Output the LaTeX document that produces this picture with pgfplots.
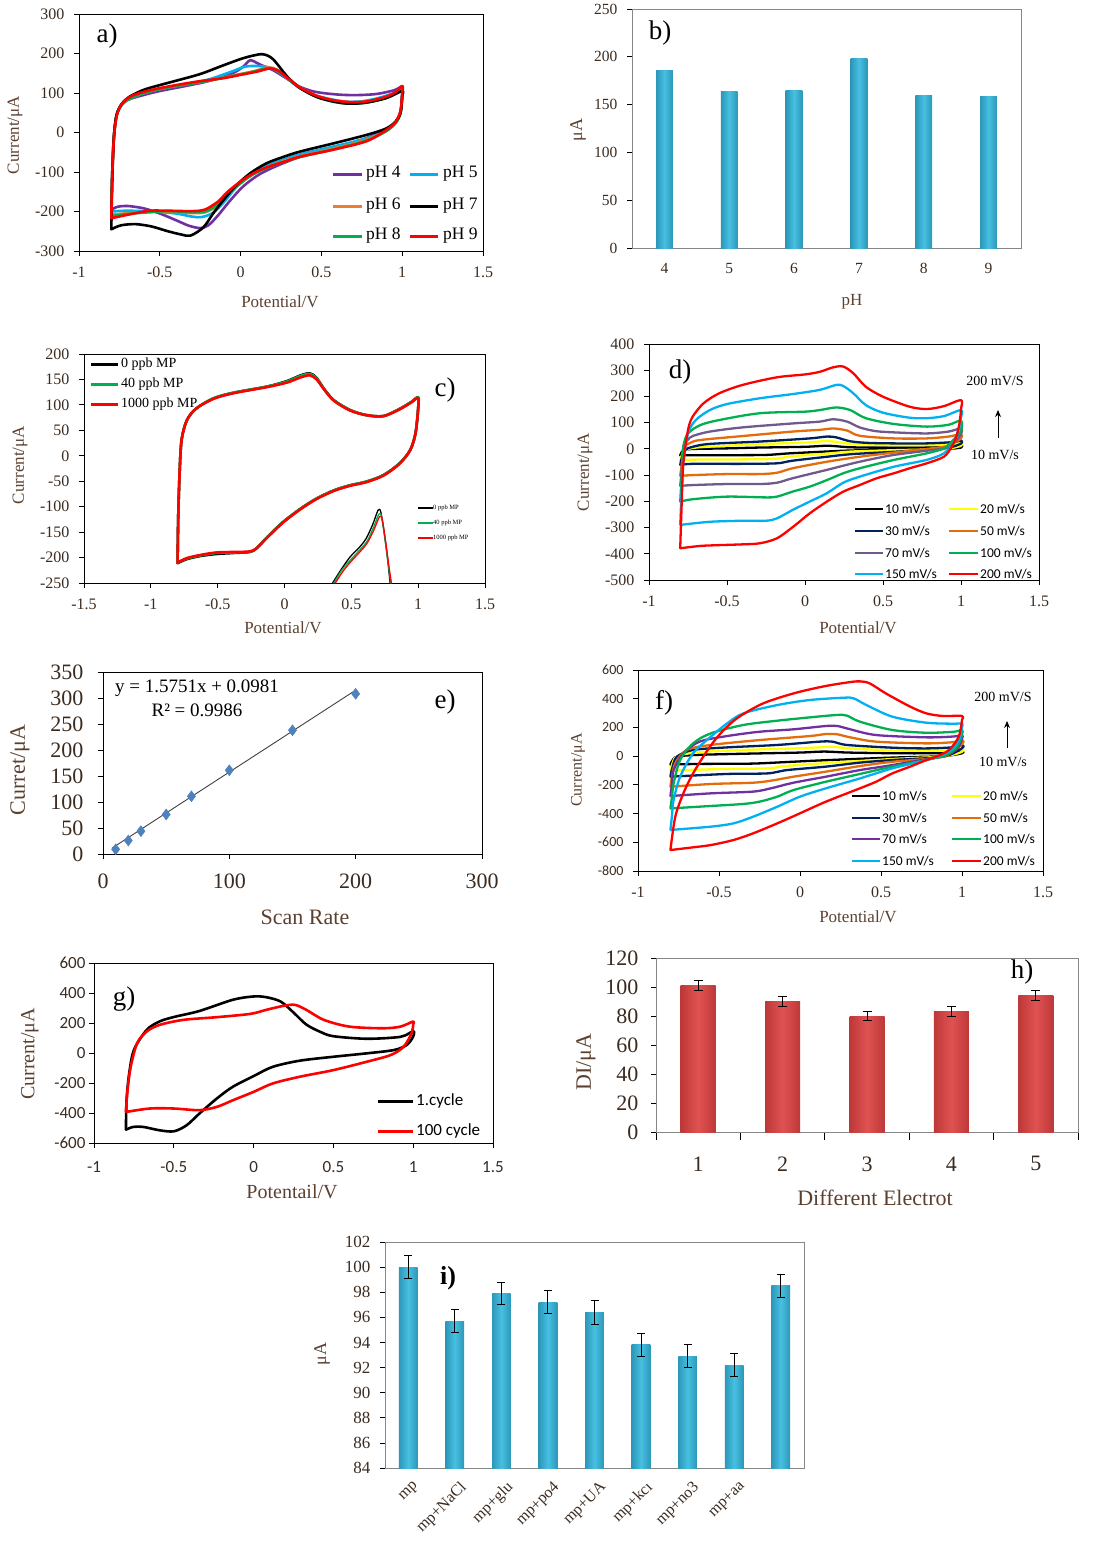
\documentclass[border=0pt]{standalone}
\usepackage{fontspec}
\setmainfont{Liberation Serif}
\newfontfamily\calibri{Carlito}
\usepackage{pgfplots}
\pgfplotsset{compat=1.18}
\usetikzlibrary{arrows.meta}
\newcommand\fs[1]{\fontsize{#1}{#1}\selectfont}
\definecolor{tickc}{HTML}{3B2B1F}
\definecolor{labc}{HTML}{5B4030}
\definecolor{cpurple}{HTML}{7030A0}
\definecolor{ccyan}{HTML}{00B0F0}
\definecolor{corange}{HTML}{ED7D31}
\definecolor{cgreen}{HTML}{00B050}
\definecolor{cred}{HTML}{FF0000}
\definecolor{cnavy}{HTML}{002060}
\definecolor{cyellow}{HTML}{FFFF00}
\definecolor{dorange}{HTML}{E46C0A}
\definecolor{dpurple}{HTML}{705A8C}
\definecolor{diam}{HTML}{4F81BD}
\definecolor{barA}{HTML}{2C97B8}
\definecolor{barB}{HTML}{47C0E2}
\definecolor{redA}{HTML}{BE3838}
\definecolor{redB}{HTML}{E05252}
\definecolor{frameg}{HTML}{868686}
\pgfplotsset{
  base/.style={
    scale only axis, anchor=south west,
    axis line style={line width=0.8pt},
    tick style={line width=0.8pt, black},
    tick align=outside, tick pos=left,
    major tick length=5pt,
    /pgf/number format/assume math mode=true,
    /pgf/number format/fixed,
    /pgf/number format/1000 sep={},
    tick label style={text=tickc},
    xticklabel style={yshift=-7pt},
    yticklabel style={xshift=-6pt},
  },
  cv/.style={base, xmin=-1, xmax=1.5, xtick={-1,-0.5,0,0.5,1,1.5},
    every axis plot/.append style={smooth, tension=0.5, line join=round, line cap=round, line width=2.6pt, mark=none}},
  bbar/.style={draw=none, bar shift=0pt, left color=barA, right color=barA, middle color=barB},
  rbar/.style={draw=none, bar shift=0pt, left color=redA, right color=redA, middle color=redB},
  ebar/.style={error bars/y dir=both, error bars/y explicit,
    error bars/error bar style={line width=1pt, black},
    error bars/error mark options={rotate=90, mark size=#1, line width=1pt, black}},
}
\begin{document}
\begin{tikzpicture}
\useasboundingbox (0pt,0pt) rectangle (1111pt,-1547pt);
% ================= a) =================
\begin{axis}[cv, at={(79pt,-251pt)}, width=404pt, height=237pt,
  ymin=-300, ymax=300, ytick={-300,-200,...,300},
  tick label style={font=\fs{16}}]
\addplot[cpurple] coordinates {(-0.8,-195) (-0.795,-110) (-0.785,-15) (-0.77,38) (-0.75,62) (-0.7,82) (-0.6,95) (-0.5,105) (-0.35,117) (-0.2,130) (-0.05,150) (0.02,168) (0.06,183) (0.12,172) (0.2,158) (0.28,138) (0.36,117) (0.45,104) (0.55,98) (0.65,95) (0.75,95) (0.85,98) (0.95,107) (1.0,116) (1.0,98) (0.99,55) (0.96,28) (0.9,8) (0.78,-14) (0.58,-38) (0.4,-57) (0.25,-80) (0.12,-105) (0.02,-135) (-0.06,-170) (-0.14,-210) (-0.2,-235) (-0.25,-242) (-0.32,-236) (-0.4,-222) (-0.5,-205) (-0.6,-192) (-0.7,-186) (-0.76,-188) (-0.8,-195)};
\addplot[ccyan] coordinates {(-0.8,-200) (-0.795,-110) (-0.785,-15) (-0.77,38) (-0.75,62) (-0.71,80) (-0.62,97) (-0.5,110) (-0.35,122) (-0.2,134) (-0.05,155) (0.03,167) (0.12,168) (0.2,162) (0.28,140) (0.36,114) (0.45,96) (0.55,85) (0.65,78) (0.75,79) (0.85,87) (0.95,100) (1.0,112) (1.0,95) (0.99,52) (0.96,25) (0.9,5) (0.78,-15) (0.58,-35) (0.37,-55) (0.27,-68) (0.16,-85) (0.06,-108) (-0.03,-140) (-0.1,-175) (-0.17,-203) (-0.24,-214) (-0.3,-213) (-0.4,-205) (-0.55,-200) (-0.7,-198) (-0.8,-200)};
\addplot[corange] coordinates {(-0.8,-208) (-0.795,-110) (-0.785,-15) (-0.77,38) (-0.75,62) (-0.71,80) (-0.62,97) (-0.5,110) (-0.35,121) (-0.2,131) (-0.05,144) (0.08,155) (0.17,165) (0.23,158) (0.3,135) (0.37,113) (0.47,93) (0.57,82) (0.67,77) (0.77,78) (0.88,86) (0.95,96) (1.0,108) (1.0,92) (0.99,50) (0.96,25) (0.9,4) (0.78,-18) (0.58,-40) (0.37,-60) (0.27,-72) (0.17,-87) (0.08,-105) (0,-128) (-0.08,-158) (-0.15,-187) (-0.22,-202) (-0.3,-204) (-0.45,-200) (-0.6,-202) (-0.72,-205) (-0.8,-208)};
\addplot[cgreen] coordinates {(-0.8,-212) (-0.795,-110) (-0.785,-15) (-0.77,38) (-0.75,62) (-0.71,80) (-0.62,97) (-0.5,110) (-0.35,121) (-0.2,131) (-0.05,143) (0.08,154) (0.17,163) (0.23,157) (0.3,134) (0.37,112) (0.47,91) (0.57,78) (0.67,73) (0.77,75) (0.88,85) (0.95,96) (1.0,110) (1.0,94) (0.99,50) (0.96,24) (0.9,3) (0.78,-20) (0.58,-42) (0.37,-62) (0.27,-74) (0.17,-88) (0.08,-105) (0,-128) (-0.08,-157) (-0.15,-185) (-0.22,-200) (-0.3,-202) (-0.45,-199) (-0.6,-203) (-0.72,-207) (-0.8,-212)};
\addplot[black] coordinates {(-0.8,-245) (-0.795,-130) (-0.785,-20) (-0.77,40) (-0.74,70) (-0.69,90) (-0.6,108) (-0.5,120) (-0.4,131) (-0.25,148) (-0.12,168) (0,186) (0.08,195) (0.14,198) (0.2,186) (0.29,141) (0.37,112) (0.47,90) (0.57,79) (0.67,73) (0.78,76) (0.9,87) (1.0,105) (1.0,92) (0.99,50) (0.96,28) (0.9,10) (0.78,-6) (0.58,-27) (0.37,-48) (0.27,-61) (0.16,-78) (0.06,-103) (-0.03,-135) (-0.1,-168) (-0.17,-205) (-0.23,-240) (-0.31,-261) (-0.37,-258) (-0.45,-250) (-0.55,-238) (-0.65,-232) (-0.74,-235) (-0.8,-245)};
\addplot[cred] coordinates {(-0.8,-217) (-0.795,-120) (-0.785,-20) (-0.77,35) (-0.75,62) (-0.72,80) (-0.66,95) (-0.55,108) (-0.4,120) (-0.25,130) (-0.1,138) (0,146) (0.1,154) (0.18,162) (0.23,157) (0.3,135) (0.37,113) (0.47,93) (0.57,82) (0.67,77) (0.77,78) (0.88,88) (0.95,100) (1.0,118) (1.0,100) (0.99,55) (0.96,27) (0.9,6) (0.78,-22) (0.58,-43) (0.37,-61) (0.27,-74) (0.17,-87) (0.08,-103) (0,-124) (-0.08,-150) (-0.14,-175) (-0.22,-195) (-0.3,-199) (-0.45,-198) (-0.56,-198) (-0.66,-205) (-0.8,-217)};
\end{axis}
\node[font=\fs{27}] at (107pt,-36pt) {a)};
\node[rotate=90, font=\fs{17}, text=labc] at (15pt,-135pt) {Current/μA};
\node[font=\fs{17}, text=labc] at (280pt,-302pt) {Potential/V};
\foreach \y/\ca/\la/\cb/\lb in {174/cpurple/{pH 4}/ccyan/{pH 5}, 206/corange/{pH 6}/black/{pH 7}, 236/cgreen/{pH 8}/cred/{pH 9}}{
  \draw[\ca, line width=3pt] (333pt,-\y pt) -- (362pt,-\y pt);
  \node[anchor=west, font=\fs{17.5}, inner sep=0pt] at (366pt,-\y pt) {\la};
  \draw[\cb, line width=3pt] (410pt,-\y pt) -- (438pt,-\y pt);
  \node[anchor=west, font=\fs{17.5}, inner sep=0pt] at (443pt,-\y pt) {\lb};
}
% ================= b) =================
\begin{axis}[base, at={(632pt,-248pt)}, width=389pt, height=239pt,
  ymin=0, ymax=250, ytick={0,50,...,250}, xmin=3.5, xmax=9.5, xtick={4,5,6,7,8,9},
  axis line style={frameg}, major x tick style={draw=none},
  tick label style={font=\fs{15.5}},
  ybar, bar width=16.7pt]
\addplot[bbar] coordinates {(4,186)};
\addplot[bbar] coordinates {(5,164)};
\addplot[bbar] coordinates {(6,165)};
\addplot[bbar] coordinates {(7,198)};
\addplot[bbar] coordinates {(8,159)};
\addplot[bbar] coordinates {(9,158)};
\end{axis}
\node[font=\fs{27}] at (660pt,-33pt) {b)};
\node[rotate=90, font=\fs{18}, text=labc] at (578pt,-130pt) {μA};
\node[font=\fs{17}, text=labc] at (852pt,-302pt) {pH};
% ================= c) =================
\begin{axis}[cv, at={(84pt,-583pt)}, width=401pt, height=229pt,
  xmin=-1.5, xtick={-1.5,-1,-0.5,0,0.5,1,1.5},
  ymin=-250, ymax=200, ytick={-250,-200,...,200},
  tick label style={font=\fs{16}}]
\addplot[black] coordinates {(-0.8,-211) (-0.795,-120) (-0.785,-35) (-0.77,31) (-0.73,70) (-0.66,93) (-0.53,113) (-0.38,124) (-0.13,136) (0.02,147) (0.12,158) (0.19,162) (0.24,153) (0.3,130) (0.37,109) (0.49,90) (0.61,80) (0.74,78) (0.86,92) (0.95,106) (1.0,115) (1.0,93) (0.98,44) (0.94,11) (0.86,-15) (0.74,-38) (0.61,-51) (0.49,-58) (0.37,-68) (0.24,-84) (0.12,-104) (-0.01,-130) (-0.13,-160) (-0.21,-182) (-0.26,-189) (-0.38,-191) (-0.51,-193) (-0.63,-197) (-0.73,-203) (-0.8,-211)};
\addplot[cgreen] coordinates {(-0.8,-210) (-0.795,-120) (-0.785,-35) (-0.77,31) (-0.73,70) (-0.66,93) (-0.53,113) (-0.38,124) (-0.13,136) (0.02,146) (0.12,157) (0.19,161) (0.24,152) (0.3,130) (0.37,109) (0.49,90) (0.61,80) (0.74,78) (0.86,92) (0.95,106) (1.0,115) (1.0,93) (0.98,44) (0.94,11) (0.86,-15) (0.74,-38) (0.61,-51) (0.49,-58) (0.37,-68) (0.24,-84) (0.12,-104) (-0.01,-130) (-0.13,-160) (-0.21,-182) (-0.26,-189) (-0.38,-190) (-0.51,-191) (-0.63,-196) (-0.73,-202) (-0.8,-210)};
\addplot[cred] coordinates {(-0.8,-210) (-0.795,-120) (-0.785,-35) (-0.77,31) (-0.73,70) (-0.66,93) (-0.53,112) (-0.38,123) (-0.13,135) (0.02,144) (0.12,154) (0.19,158) (0.24,150) (0.3,129) (0.37,108) (0.49,89) (0.61,80) (0.74,78) (0.86,91) (0.95,105) (1.0,114) (1.0,93) (0.98,44) (0.94,11) (0.86,-16) (0.74,-39) (0.61,-52) (0.49,-59) (0.37,-69) (0.24,-85) (0.12,-105) (-0.01,-131) (-0.13,-161) (-0.21,-182) (-0.26,-188) (-0.38,-189) (-0.51,-190) (-0.63,-195) (-0.73,-201) (-0.8,-210)};
\addplot[black, line width=1.3pt] coordinates {(0.36,-250) (0.42,-225) (0.49,-199) (0.56,-180) (0.61,-163) (0.66,-135) (0.70,-107) (0.72,-110) (0.745,-150) (0.77,-200) (0.79,-250)};
\addplot[cgreen, line width=1.3pt] coordinates {(0.37,-250) (0.43,-224) (0.5,-203) (0.57,-183) (0.62,-167) (0.67,-138) (0.705,-115) (0.725,-118) (0.75,-160) (0.775,-210) (0.795,-250)};
\addplot[cred, line width=1.3pt] coordinates {(0.38,-250) (0.44,-226) (0.5,-207) (0.57,-187) (0.62,-171) (0.67,-145) (0.71,-120) (0.73,-124) (0.755,-165) (0.78,-215) (0.80,-250)};
\end{axis}
\node[font=\fs{27}] at (445pt,-390pt) {c)};
\node[rotate=90, font=\fs{17}, text=labc] at (20pt,-465pt) {Current/μA};
\node[font=\fs{17}, text=labc] at (283pt,-628pt) {Potential/V};
\foreach \y/\c/\l in {364/black/{0 ppb MP}, 384/cgreen/{40 ppb MP}, 404/cred/{1000 ppb MP}}{
  \draw[\c, line width=3pt] (91pt,-\y pt) -- (118pt,-\y pt);
  \node[anchor=west, font=\fs{14}, inner sep=0pt] at (121pt,-\y pt) {\l};
}
\foreach \y/\c/\l in {508/black/{0 ppb MP}, 523/cgreen/{40 ppb MP}, 538/cred/{1000 ppb MP}}{
  \draw[\c, line width=1.2pt] (418pt,-\y pt) -- (433pt,-\y pt);
  \node[anchor=west, font=\fs{6.5}, inner sep=0pt] at (433pt,-\y pt) {\l};
}
% ================= d) =================
\begin{axis}[cv, at={(649pt,-580pt)}, width=390pt, height=236pt,
  ymin=-500, ymax=400, ytick={-500,-400,...,400},
  tick label style={font=\fs{16}},
  every axis plot/.append style={line width=2.3pt}]
\addplot[black] coordinates {(-0.8,-25) (-0.79,-12) (-0.77,-3) (-0.7,0) (-0.5,2) (-0.3,5) (0,8) (0.15,12) (0.3,6) (0.6,5) (0.8,6) (0.95,9) (1.0,14) (1.0,5) (0.9,0) (0.6,-3) (0.3,-6) (0.14,-10) (-0.1,-17) (-0.25,-23) (-0.5,-24) (-0.7,-24) (-0.8,-25)};
\addplot[cyellow] coordinates {(-0.8,-45) (-0.79,-25) (-0.77,-5) (-0.7,5) (-0.5,12) (-0.3,18) (0,24) (0.15,30) (0.3,19) (0.57,14) (0.8,14) (0.95,18) (1.0,24) (1.0,12) (0.89,0) (0.57,-5) (0.3,-10) (0.14,-18) (-0.08,-28) (-0.2,-38) (-0.4,-40) (-0.72,-41) (-0.8,-45)};
\addplot[cnavy] coordinates {(-0.8,-61) (-0.79,-35) (-0.77,-5) (-0.72,8) (-0.61,19) (-0.29,28) (0.03,40) (0.14,47) (0.2,44) (0.29,29) (0.4,23) (0.57,21) (0.78,21) (0.95,26) (1.0,32) (1.0,20) (0.89,2) (0.57,-11) (0.3,-20) (0.14,-30) (-0.08,-45) (-0.18,-55) (-0.4,-57) (-0.72,-57) (-0.8,-61)};
\addplot[dorange] coordinates {(-0.8,-103) (-0.79,-60) (-0.77,5) (-0.74,22) (-0.67,34) (-0.4,49) (-0.08,66) (0.1,73) (0.18,78) (0.27,70) (0.35,50) (0.57,40) (0.78,40) (0.92,47) (1.0,56) (1.0,40) (0.95,22) (0.89,8) (0.57,-14) (0.35,-30) (0.14,-49) (-0.08,-74) (-0.18,-91) (-0.29,-96) (-0.5,-96) (-0.72,-100) (-0.8,-103)};
\addplot[dpurple] coordinates {(-0.8,-141) (-0.79,-80) (-0.78,10) (-0.75,35) (-0.72,49) (-0.61,66) (-0.4,82) (-0.08,97) (0.094,104) (0.18,113) (0.27,104) (0.35,82) (0.45,68) (0.57,63) (0.78,59) (0.92,66) (1.0,78) (1.0,55) (0.95,21) (0.89,2) (0.57,-23) (0.35,-49) (0.14,-80) (-0.08,-112) (-0.18,-129) (-0.29,-134) (-0.5,-134) (-0.72,-138) (-0.8,-141)};
\addplot[cgreen] coordinates {(-0.8,-201) (-0.79,-100) (-0.78,8) (-0.75,59) (-0.67,91) (-0.55,110) (-0.29,136) (0,142) (0.094,148) (0.2,158) (0.29,148) (0.39,117) (0.57,95) (0.78,85) (0.92,92) (1.0,108) (1.0,70) (0.95,34) (0.89,2) (0.78,-17) (0.57,-42) (0.35,-74) (0.245,-93) (0.14,-119) (0.03,-144) (-0.08,-163) (-0.18,-182) (-0.25,-185) (-0.5,-182) (-0.72,-192) (-0.8,-201)};
\addplot[ccyan] coordinates {(-0.8,-290) (-0.79,-150) (-0.78,-55) (-0.75,59) (-0.7,110) (-0.61,148) (-0.5,171) (-0.29,193) (-0.08,209) (0.094,225) (0.2,244) (0.245,240) (0.31,212) (0.39,167) (0.5,138) (0.67,119) (0.78,117) (0.89,125) (1.0,148) (1.0,120) (0.99,85) (0.95,21) (0.89,-17) (0.78,-42) (0.57,-68) (0.35,-106) (0.245,-129) (0.14,-169) (0.03,-201) (-0.08,-233) (-0.18,-265) (-0.25,-274) (-0.4,-274) (-0.61,-278) (-0.8,-290)};
\addplot[cred] coordinates {(-0.8,-379) (-0.79,-200) (-0.78,-55) (-0.75,72) (-0.72,123) (-0.65,174) (-0.55,212) (-0.4,244) (-0.18,273) (0,284) (0.095,294) (0.18,311) (0.245,314) (0.31,288) (0.39,237) (0.5,199) (0.67,161) (0.78,152) (0.89,163) (1.0,186) (1.0,151) (0.99,97) (0.97,47) (0.94,8) (0.89,-30) (0.78,-55) (0.67,-74) (0.57,-93) (0.46,-112) (0.35,-138) (0.245,-163) (0.14,-201) (0.03,-246) (-0.076,-297) (-0.18,-341) (-0.29,-360) (-0.4,-364) (-0.55,-367) (-0.67,-370) (-0.8,-379)};
\end{axis}
\node[font=\fs{27}] at (680pt,-372pt) {d)};
\node[rotate=90, font=\fs{17}, text=labc] at (585pt,-472pt) {Current/μA};
\node[font=\fs{17}, text=labc] at (858pt,-628pt) {Potential/V};
\node[font=\fs{14}] at (995pt,-381pt) {200 mV/S};
\node[font=\fs{14}] at (995pt,-455pt) {10 mV/s};
\draw[-{Stealth[length=7pt,width=6pt]}, line width=0.9pt] (998pt,-438pt) -- (998pt,-410pt);
\foreach \y/\ca/\la/\cb/\lb in {509/black/{10 mV/s}/cyellow/{20 mV/s}, 531/cnavy/{30 mV/s}/dorange/{50 mV/s}, 553/dpurple/{70 mV/s}/cgreen/{100 mV/s}, 574/ccyan/{150 mV/s}/cred/{200 mV/s}}{
  \draw[\ca, line width=2.6pt] (855pt,-\y pt) -- (883pt,-\y pt);
  \node[anchor=west, font=\calibri\fs{13.5}, inner sep=0pt] at (885pt,-\y pt) {\la};
  \draw[\cb, line width=2.6pt] (949pt,-\y pt) -- (978pt,-\y pt);
  \node[anchor=west, font=\calibri\fs{13.5}, inner sep=0pt] at (980pt,-\y pt) {\lb};
}
% ================= e) =================
\begin{axis}[base, at={(103pt,-854pt)}, width=379pt, height=182pt,
  xmin=0, xmax=300, ymin=0, ymax=350, xtick={0,100,200,300}, ytick={0,50,...,350},
  tick label style={font=\fs{22}},
  xticklabel style={yshift=-4pt}, yticklabel style={xshift=-5pt}]
\addplot[black!75, line width=0.9pt, mark=none] coordinates {(7,11.1) (200,315.1)};
\addplot[only marks, mark=diamond*, mark size=5.5pt, mark options={fill=diam, draw=diam}] coordinates {(10,9) (20,26) (30,44) (50,76) (70,111) (100,161) (150,238) (200,308)};
\end{axis}
\node[font=\fs{27}] at (445pt,-702pt) {e)};
\node[font=\fs{19}] at (197pt,-688pt) {y = 1.5751x + 0.0981};
\node[font=\fs{19}] at (197pt,-710pt) {R² = 0.9986};
\node[rotate=90, font=\fs{22}, text=labc] at (20pt,-770pt) {Curret/μA};
\node[font=\fs{22}, text=labc] at (305pt,-917pt) {Scan Rate};
% ================= f) =================
\begin{axis}[cv, at={(638pt,-871pt)}, width=405pt, height=201pt,
  ymin=-800, ymax=600, ytick={-800,-600,...,600},
  xticklabel style={font=\fs{16}}, yticklabel style={font=\calibri\fs{14}},
  every axis plot/.append style={line width=2.3pt}]
\addplot[black] coordinates {(-0.8,-58) (-0.79,-35) (-0.77,-8) (-0.72,3) (-0.6,10) (-0.3,18) (0,25) (0.15,32) (0.3,25) (0.6,20) (0.8,20) (0.95,24) (1.0,32) (1.0,20) (0.88,0) (0.57,-10) (0.16,-28) (-0.1,-42) (-0.3,-52) (-0.6,-54) (-0.8,-58)};
\addplot[cyellow] coordinates {(-0.8,-101) (-0.79,-60) (-0.77,-10) (-0.72,12) (-0.6,30) (-0.3,45) (0,55) (0.2,65) (0.3,55) (0.57,40) (0.8,38) (0.95,42) (1.0,50) (1.0,30) (0.88,-2) (0.57,-20) (0.16,-48) (-0.1,-70) (-0.2,-85) (-0.5,-90) (-0.8,-101)};
\addplot[cnavy] coordinates {(-0.8,-143) (-0.79,-90) (-0.76,-4) (-0.66,43) (-0.45,61) (-0.14,78) (0.12,101) (0.2,101) (0.29,78) (0.57,59) (0.78,54) (0.95,62) (1.0,78) (1.0,55) (0.88,-4) (0.57,-27) (0.37,-45) (0.16,-73) (-0.08,-97) (-0.2,-120) (-0.45,-124) (-0.8,-143)};
\addplot[dorange] coordinates {(-0.8,-213) (-0.79,-140) (-0.77,-50) (-0.7,43) (-0.55,78) (-0.25,112) (0.06,140) (0.16,154) (0.23,152) (0.31,131) (0.47,101) (0.78,89) (0.95,98) (1.0,112) (1.0,85) (0.88,-4) (0.57,-39) (0.37,-69) (0.16,-108) (-0.04,-143) (-0.18,-171) (-0.29,-185) (-0.55,-194) (-0.8,-213)};
\addplot[cpurple] coordinates {(-0.8,-278) (-0.79,-190) (-0.78,-97) (-0.72,20) (-0.62,101) (-0.45,140) (-0.25,170) (-0.04,187) (0.16,210) (0.23,210) (0.31,187) (0.47,147) (0.78,131) (0.95,137) (1.0,147) (1.0,120) (0.97,54) (0.88,1) (0.57,-62) (0.37,-97) (0.16,-143) (-0.04,-185) (-0.18,-224) (-0.29,-247) (-0.55,-259) (-0.8,-278)};
\addplot[cgreen] coordinates {(-0.8,-364) (-0.79,-280) (-0.78,-189) (-0.74,-27) (-0.66,89) (-0.55,159) (-0.35,217) (-0.14,247) (0.06,270) (0.23,287) (0.29,282) (0.37,240) (0.57,182) (0.78,163) (0.95,170) (1.0,182) (1.0,150) (0.97,66) (0.9,8) (0.78,-27) (0.57,-73) (0.37,-124) (0.16,-178) (-0.04,-236) (-0.14,-282) (-0.25,-317) (-0.35,-333) (-0.55,-347) (-0.8,-364)};
\addplot[ccyan] coordinates {(-0.8,-514) (-0.79,-410) (-0.78,-305) (-0.74,-143) (-0.66,20) (-0.55,136) (-0.45,228) (-0.35,298) (-0.14,356) (0.06,391) (0.27,407) (0.33,403) (0.41,356) (0.57,275) (0.78,233) (0.95,226) (1.0,228) (1.0,200) (0.98,112) (0.92,31) (0.78,-27) (0.57,-85) (0.37,-155) (0.16,-224) (0,-282) (-0.14,-352) (-0.29,-422) (-0.41,-468) (-0.55,-491) (-0.8,-514)};
\addplot[cred] coordinates {(-0.8,-654) (-0.77,-422) (-0.72,-259) (-0.66,-120) (-0.57,43) (-0.49,159) (-0.39,263) (-0.25,356) (-0.14,403) (0,449) (0.16,489) (0.31,516) (0.37,521) (0.43,507) (0.53,437) (0.68,345) (0.78,298) (0.88,280) (1.0,280) (1.0,252) (0.98,136) (0.92,43) (0.84,-4) (0.78,-27) (0.68,-73) (0.57,-120) (0.47,-178) (0.37,-224) (0.16,-317) (0,-398) (-0.14,-468) (-0.29,-538) (-0.41,-584) (-0.55,-619) (-0.66,-635) (-0.8,-654)};
\end{axis}
\node[font=\fs{27}] at (664pt,-703pt) {f)};
\node[rotate=90, font=\fs{16}, text=labc] at (578pt,-770pt) {Current/μA};
\node[font=\fs{17}, text=labc] at (858pt,-917pt) {Potential/V};
\node[font=\fs{14}] at (1003pt,-697pt) {200 mV/S};
\node[font=\fs{14}] at (1003pt,-762pt) {10 mV/s};
\draw[-{Stealth[length=7pt,width=6pt]}, line width=0.9pt] (1007pt,-748pt) -- (1007pt,-721pt);
\foreach \y/\ca/\la/\cb/\lb in {796/black/{10 mV/s}/cyellow/{20 mV/s}, 818/cnavy/{30 mV/s}/dorange/{50 mV/s}, 839/cpurple/{70 mV/s}/cgreen/{100 mV/s}, 861/ccyan/{150 mV/s}/cred/{200 mV/s}}{
  \draw[\ca, line width=2.6pt] (852pt,-\y pt) -- (880pt,-\y pt);
  \node[anchor=west, font=\calibri\fs{13.5}, inner sep=0pt] at (882pt,-\y pt) {\la};
  \draw[\cb, line width=2.6pt] (952pt,-\y pt) -- (981pt,-\y pt);
  \node[anchor=west, font=\calibri\fs{13.5}, inner sep=0pt] at (983pt,-\y pt) {\lb};
}
% ================= g) =================
\begin{axis}[cv, at={(94pt,-1143pt)}, width=399pt, height=180pt,
  ymin=-600, ymax=600, ytick={-600,-400,...,600},
  tick label style={font=\calibri\fs{17}},
  xticklabel style={yshift=-3pt}, yticklabel style={xshift=6pt}]
\addplot[black] coordinates {(-0.8,-511) (-0.796,-315) (-0.78,-140) (-0.75,20) (-0.67,154) (-0.59,210) (-0.5,240) (-0.34,280) (-0.13,355) (0,377) (0.08,372) (0.17,343) (0.25,270) (0.33,190) (0.42,140) (0.5,112) (0.71,95) (0.92,108) (1.0,145) (1.0,110) (0.96,54) (0.88,20) (0.71,-2) (0.5,-25) (0.29,-51) (0.12,-92) (0,-154) (-0.13,-225) (-0.23,-303) (-0.34,-404) (-0.42,-482) (-0.5,-522) (-0.59,-515) (-0.69,-493) (-0.755,-493) (-0.8,-511)};
\addplot[cred] coordinates {(-0.8,-393) (-0.79,-248) (-0.77,-92) (-0.73,65) (-0.67,143) (-0.59,187) (-0.44,221) (-0.23,239) (-0.02,261) (0.08,288) (0.19,315) (0.26,321) (0.33,288) (0.44,221) (0.6,176) (0.81,165) (0.92,176) (1.0,210) (1.0,190) (0.99,132) (0.94,42) (0.86,-13) (0.71,-58) (0.5,-114) (0.29,-158) (0.12,-203) (0,-259) (-0.13,-315) (-0.23,-359) (-0.34,-381) (-0.5,-370) (-0.65,-370) (-0.8,-393)};
\end{axis}
\node[font=\fs{27}] at (124pt,-999pt) {g)};
\node[rotate=90, font=\fs{20}, text=labc] at (30pt,-1054pt) {Current/μA};
\node[font=\fs{20}, text=labc] at (292pt,-1192pt) {Potentail/V};
\draw[black, line width=3pt] (378pt,-1101pt) -- (413pt,-1101pt);
\node[anchor=west, font=\calibri\fs{17}, inner sep=0pt] at (416pt,-1101pt) {1.cycle};
\draw[cred, line width=3pt] (378pt,-1131pt) -- (413pt,-1131pt);
\node[anchor=west, font=\calibri\fs{17}, inner sep=0pt] at (416pt,-1131pt) {100 cycle};
% ================= h) =================
\begin{axis}[base, at={(656pt,-1132pt)}, width=422pt, height=174pt,
  ymin=0, ymax=120, ytick={0,20,...,120}, xmin=0.5, xmax=5.5, xtick={1,2,3,4,5},
  minor xtick={0.5,1.5,2.5,3.5,4.5,5.5}, major x tick style={draw=none},
  minor tick length=8pt,
  axis line style={frameg}, tick label style={font=\fs{22}},
  xticklabel style={yshift=-9pt}, yticklabel style={xshift=-3pt},
  ybar, bar width=35pt]
\addplot[rbar, ebar=4.5pt] coordinates {(1,101) +- (0,3.5)};
\addplot[rbar, ebar=4.5pt] coordinates {(2,90) +- (0,3.5)};
\addplot[rbar, ebar=4.5pt] coordinates {(3,80) +- (0,3.2)};
\addplot[rbar, ebar=4.5pt] coordinates {(4,83) +- (0,3.5)};
\addplot[rbar, ebar=4.5pt] coordinates {(5,94) +- (0,3.5)};
\end{axis}
\node[font=\fs{27}] at (1022pt,-972pt) {h)};
\node[rotate=90, font=\fs{22}, text=labc] at (586pt,-1062pt) {DI/μA};
\node[font=\fs{22}, text=labc] at (875pt,-1198pt) {Different Electrot};
% ================= i) =================
\begin{axis}[base, at={(385pt,-1468pt)}, width=419pt, height=226pt,
  ymin=84, ymax=102, ytick={84,86,...,102}, xmin=-0.5, xmax=8.5, xtick={0,...,8},
  xticklabels={mp, mp+NaCl, mp+glu, mp+po4, mp+UA, mp+kcı, mp+no3, mp+aa, {}},
  major x tick style={draw=none},
  axis line style={frameg}, yticklabel style={font=\fs{17}},
  xticklabel style={font=\fs{16}, rotate=45, anchor=north east, inner sep=1pt, yshift=-2pt, xshift=4pt},
  ybar, bar width=18.7pt]
\addplot[bbar, ebar=4pt] coordinates {(0,100) +- (0,0.9)};
\addplot[bbar, ebar=4pt] coordinates {(1,95.7) +- (0,0.93)};
\addplot[bbar, ebar=4pt] coordinates {(2,97.9) +- (0,0.9)};
\addplot[bbar, ebar=4pt] coordinates {(3,97.2) +- (0,0.9)};
\addplot[bbar, ebar=4pt] coordinates {(4,96.4) +- (0,0.93)};
\addplot[bbar, ebar=4pt] coordinates {(5,93.8) +- (0,0.88)};
\addplot[bbar, ebar=4pt] coordinates {(6,92.9) +- (0,0.9)};
\addplot[bbar, ebar=4pt] coordinates {(7,92.2) +- (0,0.93)};
\addplot[bbar, ebar=4pt] coordinates {(8,98.5) +- (0,0.93)};
\end{axis}
\node[font=\bfseries\fs{26}] at (448pt,-1278pt) {i)};
\node[rotate=90, font=\fs{18}, text=labc] at (322pt,-1354pt) {μA};
\end{tikzpicture}
\end{document}
